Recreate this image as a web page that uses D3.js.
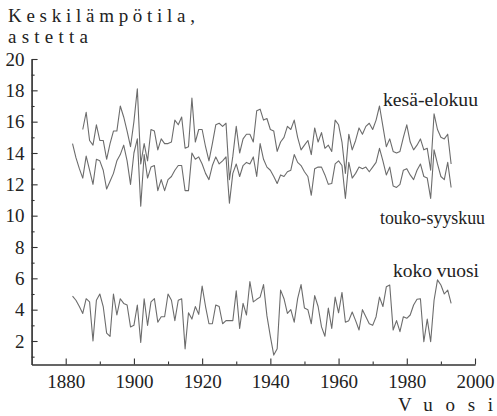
<!DOCTYPE html>
<html>
<head>
<meta charset="utf-8">
<script src="https://cdn.jsdelivr.net/npm/d3@7"></script>
<style>
  html, body { margin: 0; padding: 0; background: #fff; }
  svg { display: block; }
  text { font-family: "Liberation Serif", "Times New Roman", serif; fill: #222; }
</style>
</head>
<body>
<svg id="chart" width="497" height="416"></svg>
<script>
// Mean temperature in Finland, summer months, growing season and whole year
const summerYears = d3.range(1885, 1994);
const summerTemps = [
  15.5, 16.6, 14.8, 14.5, 15.8, 14.8, 14.8, 13.6, 14.6, 15.4,
  15.4, 17.0, 16.3, 15.4, 14.4, 16.0, 18.1, 13.3, 14.6, 13.5,
  15.5, 15.4, 14.2, 14.9, 14.6, 14.6, 14.7, 16.1, 15.8, 16.3,
  14.3, 14.4, 17.5, 14.7, 15.5, 15.5, 14.4, 13.5, 14.6, 15.8,
  15.9, 15.7, 15.9, 12.3, 13.8, 15.7, 14.0, 14.9, 15.2, 15.2,
  14.7, 16.7, 16.8, 16.1, 16.2, 15.5, 15.4, 14.1, 14.7, 15.0,
  15.7, 15.5, 16.1, 15.0, 14.2, 14.5, 14.8, 13.9, 15.6, 14.7,
  15.3, 14.3, 14.5, 14.1, 16.1, 15.8, 14.7, 12.7, 15.2, 14.2,
  14.8, 15.6, 15.2, 15.7, 15.9, 15.5, 16.1, 17.0, 15.7, 14.4,
  14.9, 14.1, 14.0, 14.1, 15.0, 15.8, 14.7, 14.2, 14.5, 14.9,
  14.2, 14.3, 12.9, 16.5, 15.5, 15.0, 14.9, 15.2, 13.3
];

const seasonYears = d3.range(1882, 1994);
const seasonTemps = [
  14.6, 13.7, 13.0, 12.4, 13.8, 12.9, 12.0, 13.6, 13.5, 12.9,
  11.7, 12.2, 12.7, 13.5, 13.9, 14.5, 13.5, 12.0, 14.0, 14.9,
  10.6, 13.9, 12.4, 13.1, 13.2, 11.6, 12.3, 11.6, 12.3, 12.5,
  12.9, 13.2, 13.2, 11.6, 11.6, 14.0, 13.6, 13.75, 13.3, 12.7,
  12.3, 13.2, 13.75, 13.3, 13.5, 13.75, 10.8, 12.7, 13.3, 12.5,
  13.2, 13.4, 13.3, 13.75, 12.5, 14.6, 13.6, 13.1, 12.9, 12.5,
  12.05, 12.6, 12.5, 12.8, 12.9, 13.9, 13.4, 13.2, 12.8, 12.5,
  11.3, 13.0, 13.1, 13.1, 12.6, 12.0, 12.05, 13.3, 13.5, 13.2,
  11.1, 13.4, 12.4, 12.7, 13.1, 13.0, 13.1, 12.8, 13.1, 13.4,
  14.3, 13.5, 12.6, 13.1, 11.9, 11.8, 12.0, 12.9, 13.0, 12.6,
  12.3, 12.9, 13.3, 12.5, 12.4, 11.1, 14.2, 13.3, 12.5, 12.3,
  13.4, 11.8
];

const annualYears = d3.range(1882, 1994);
const annualTemps = [
  4.87, 4.6, 4.2, 3.76, 4.7, 4.5, 2.0, 4.6, 5.0, 4.2,
  2.5, 2.3, 5.0, 3.66, 4.7, 4.4, 4.3, 2.9, 3.0, 4.3,
  1.9, 4.7, 3.0, 4.5, 4.7, 3.2, 3.55, 3.55, 5.0, 4.6,
  3.3, 4.6, 4.7, 1.5, 3.8, 3.4, 4.2, 3.7, 5.5, 4.2,
  3.1, 3.1, 4.3, 4.2, 3.1, 3.3, 3.3, 3.3, 5.2, 2.8,
  4.4, 3.66, 5.8, 4.5, 4.66, 4.8, 5.6, 3.6, 2.3, 1.1,
  1.5, 5.25, 4.7, 3.76, 4.0, 3.2, 4.7, 5.6, 4.1, 4.0,
  3.1, 4.9, 4.2, 2.9, 2.3, 4.1, 2.8, 4.8, 3.8, 5.1,
  3.2, 3.3, 3.85, 3.3, 2.7, 4.0, 3.55, 3.1, 3.0, 3.55,
  4.8, 4.2, 5.46, 5.57, 2.7, 3.3, 2.6, 3.55, 3.45, 3.66,
  4.3, 4.66, 4.7, 1.95, 3.4, 1.95, 4.6, 5.9, 5.57, 5.0,
  5.25, 4.4
];

const seriesNames = ["kesä-elokuu", "touko-syyskuu", "koko vuosi"];
const yTickValues = d3.range(2, 21, 2);
const yMinorValues = d3.range(1, 20, 2);
const xTickValues = d3.range(1880, 2001, 20);
const xMinorValues = d3.range(1890, 2000, 20);
const titleLines = ["Keskilämpötila,", "astetta"];
const xTitle = "Vuosi";

const svg = d3.select("#chart");

const x = d3.scaleLinear().domain([1870, 2000]).range([31.6, 475]);
const y = d3.scaleLinear().domain([0.5, 20]).range([364.5, 59]);

const axisColor = "#333";
const fontSize = 19;

function styleAxis(g) {
  g.selectAll("path.domain").attr("stroke", axisColor).attr("stroke-width", 1.2);
  g.selectAll(".tick line").attr("stroke", axisColor).attr("stroke-width", 1.1);
  g.selectAll(".tick text")
    .attr("fill", "#222")
    .style("font-family", '"Liberation Serif", serif')
    .style("font-size", fontSize + "px");
}

// Minor ticks first, then the labelled major axis on top
svg.append("g")
  .attr("transform", `translate(${x(1870)},0)`)
  .call(d3.axisLeft(y).tickValues(yMinorValues).tickSize(-3).tickSizeOuter(0).tickFormat(""))
  .call(styleAxis);

svg.append("g")
  .attr("transform", `translate(${x(1870)},0)`)
  .call(d3.axisLeft(y).tickValues(yTickValues).tickSize(-6).tickSizeOuter(0).tickPadding(7))
  .call(styleAxis);

svg.append("g")
  .attr("transform", `translate(0,${y(0.5)})`)
  .call(d3.axisBottom(x).tickValues(xMinorValues).tickSize(-3).tickSizeOuter(0).tickFormat(""))
  .call(styleAxis);

svg.append("g")
  .attr("transform", `translate(0,${y(0.5)})`)
  .call(d3.axisBottom(x).tickValues(xTickValues).tickSize(-6).tickSizeOuter(0).tickPadding(10).tickFormat(d3.format("d")))
  .call(styleAxis);

// Data lines
const line = d3.line().x(d => x(d[0])).y(d => y(d[1]));
const series = [
  d3.zip(summerYears, summerTemps),
  d3.zip(seasonYears, seasonTemps),
  d3.zip(annualYears, annualTemps)
];

svg.append("g")
  .selectAll("path")
  .data(series)
  .join("path")
  .attr("d", line)
  .attr("fill", "none")
  .attr("stroke", "#6c6c6c")
  .attr("stroke-width", 1.1)
  .attr("stroke-linejoin", "round");

// Series labels
const labelPos = [
  { x: 383, y: 106, w: 95 },
  { x: 380, y: 224, w: 105 },
  { x: 393, y: 277, w: 86 }
];
svg.append("g")
  .selectAll("text")
  .data(seriesNames)
  .join("text")
  .attr("x", (d, i) => labelPos[i].x)
  .attr("y", (d, i) => labelPos[i].y)
  .attr("textLength", (d, i) => labelPos[i].w)
  .attr("lengthAdjust", "spacingAndGlyphs")
  .style("font-size", "18px")
  .text(d => d);

// Axis titles, letter-spaced
const titlePos = [
  { x: 8, y: 22, w: 187 },
  { x: 8, y: 43, w: 80 }
];
svg.append("g")
  .selectAll("text")
  .data(titleLines)
  .join("text")
  .attr("x", (d, i) => titlePos[i].x)
  .attr("y", (d, i) => titlePos[i].y)
  .attr("textLength", (d, i) => titlePos[i].w)
  .attr("lengthAdjust", "spacing")
  .style("font-size", "19px")
  .text(d => d);

svg.append("text")
  .attr("x", 398)
  .attr("y", 411)
  .attr("textLength", 95)
  .attr("lengthAdjust", "spacing")
  .style("font-size", "19px")
  .text(xTitle);
</script>
</body>
</html>
